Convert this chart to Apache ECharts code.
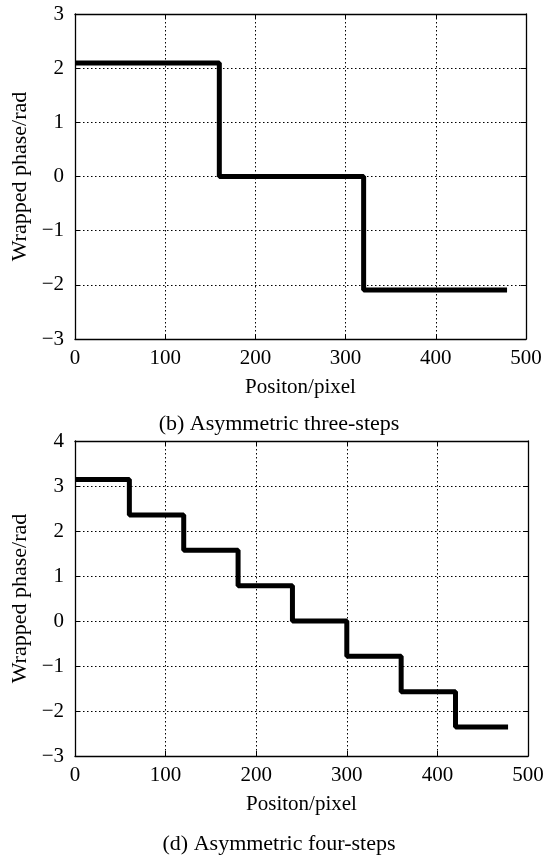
<!DOCTYPE html>
<html>
<head>
<meta charset="utf-8">
<script src="https://cdn.jsdelivr.net/npm/echarts@6/dist/echarts.min.js"></script>
<style>
html,body{margin:0;padding:0;background:#fff;}
#c{width:558px;height:858px;}
</style>
</head>
<body>
<div id="c"></div>
<script>
// ---- data ----
// chart (b): asymmetric three-steps
const bStepX = [0, 160, 320, 479];
const bLevels = [2.094, 0, -2.094];
// chart (d): asymmetric four-steps
const dStepX = [0, 60, 120, 180, 240, 300, 360, 420, 478];
const dLevels = [3.142, 2.356, 1.571, 0.785, 0, -0.785, -1.571, -2.356];
const xTicks = [0, 100, 200, 300, 400, 500];
const bYTicks = [-3, -2, -1, 0, 1, 2, 3];
const dYTicks = [-3, -2, -1, 0, 1, 2, 3, 4];
const xName = 'Positon/pixel';
const yName = 'Wrapped phase/rad';
const bCaption = '(b) Asymmetric three-steps';
const dCaption = '(d) Asymmetric four-steps';

function stepData(xs, ys) {
  const out = [];
  for (let i = 0; i < ys.length; i++) out.push([xs[i], ys[i]]);
  out.push([xs[xs.length - 1], ys[ys.length - 1]]);
  return out;
}

const FONT = '"Liberation Serif","Times New Roman",serif';
const fmt = v => String(v).replace('-', '\u2212');

function axes(gridIndex, yMin, yMax) {
  const common = {
    gridIndex,
    axisLine: { show: true, onZero: false, lineStyle: { color: '#000', width: 1.3 } },
    axisTick: { show: true, inside: true, length: 5, lineStyle: { color: '#000', width: 1 } },
  };
  const xMain = Object.assign({}, common, {
    type: 'value', min: xTicks[0], max: xTicks[xTicks.length - 1], interval: 100, position: 'bottom',
    axisLabel: { color: '#000', fontFamily: FONT, fontSize: 21, margin: 9, formatter: fmt },
    splitLine: { show: true, lineStyle: { color: '#000', type: [1.5, 2.5], width: 1 } },
    name: xName, nameLocation: 'middle', nameGap: 38,
    nameTextStyle: { color: '#000', fontFamily: FONT, fontSize: 21 }
  });
  const xTop = Object.assign({}, common, {
    type: 'value', min: xTicks[0], max: xTicks[xTicks.length - 1], interval: 100, position: 'top',
    axisLabel: { show: false }, splitLine: { show: false }
  });
  const yMain = Object.assign({}, common, {
    type: 'value', min: yMin, max: yMax, interval: 1, position: 'left',
    axisLabel: { color: '#000', fontFamily: FONT, fontSize: 21, margin: 11, formatter: fmt },
    splitLine: { show: true, lineStyle: { color: '#000', type: [1.5, 2.5], width: 1 } },
    name: yName, nameLocation: 'middle', nameGap: 42, nameRotate: 90,
    nameTextStyle: { color: '#000', fontFamily: FONT, fontSize: 22 }
  });
  const yRight = Object.assign({}, common, {
    type: 'value', min: yMin, max: yMax, interval: 1, position: 'right',
    axisLabel: { show: false }, splitLine: { show: false }
  });
  return { x: [xMain, xTop], y: [yMain, yRight] };
}

const a1 = axes(0, bYTicks[0], bYTicks[bYTicks.length - 1]);
const a2 = axes(1, dYTicks[0], dYTicks[dYTicks.length - 1]);

const chart = echarts.init(document.getElementById('c'), null, { renderer: 'canvas' });
chart.setOption({
  backgroundColor: '#fff',
  animation: false,
  title: [
    { text: bCaption, left: 'center', top: 408, textStyle: { color: '#000', fontFamily: FONT, fontSize: 22, fontWeight: 'normal' } },
    { text: dCaption, left: 'center', top: 828, textStyle: { color: '#000', fontFamily: FONT, fontSize: 22, fontWeight: 'normal' } }
  ],
  grid: [
    { left: 75, top: 14, width: 451, height: 325 },
    { left: 75, top: 441, width: 453, height: 315 }
  ],
  xAxis: [a1.x[0], a1.x[1], a2.x[0], a2.x[1]],
  yAxis: [a1.y[0], a1.y[1], a2.y[0], a2.y[1]],
  series: [
    { type: 'line', xAxisIndex: 0, yAxisIndex: 0, step: 'end', showSymbol: false,
      data: stepData(bStepX, bLevels), lineStyle: { color: '#000', width: 5 } },
    { type: 'line', xAxisIndex: 2, yAxisIndex: 2, step: 'end', showSymbol: false,
      data: stepData(dStepX, dLevels), lineStyle: { color: '#000', width: 5 } }
  ]
});
</script>
</body>
</html>
